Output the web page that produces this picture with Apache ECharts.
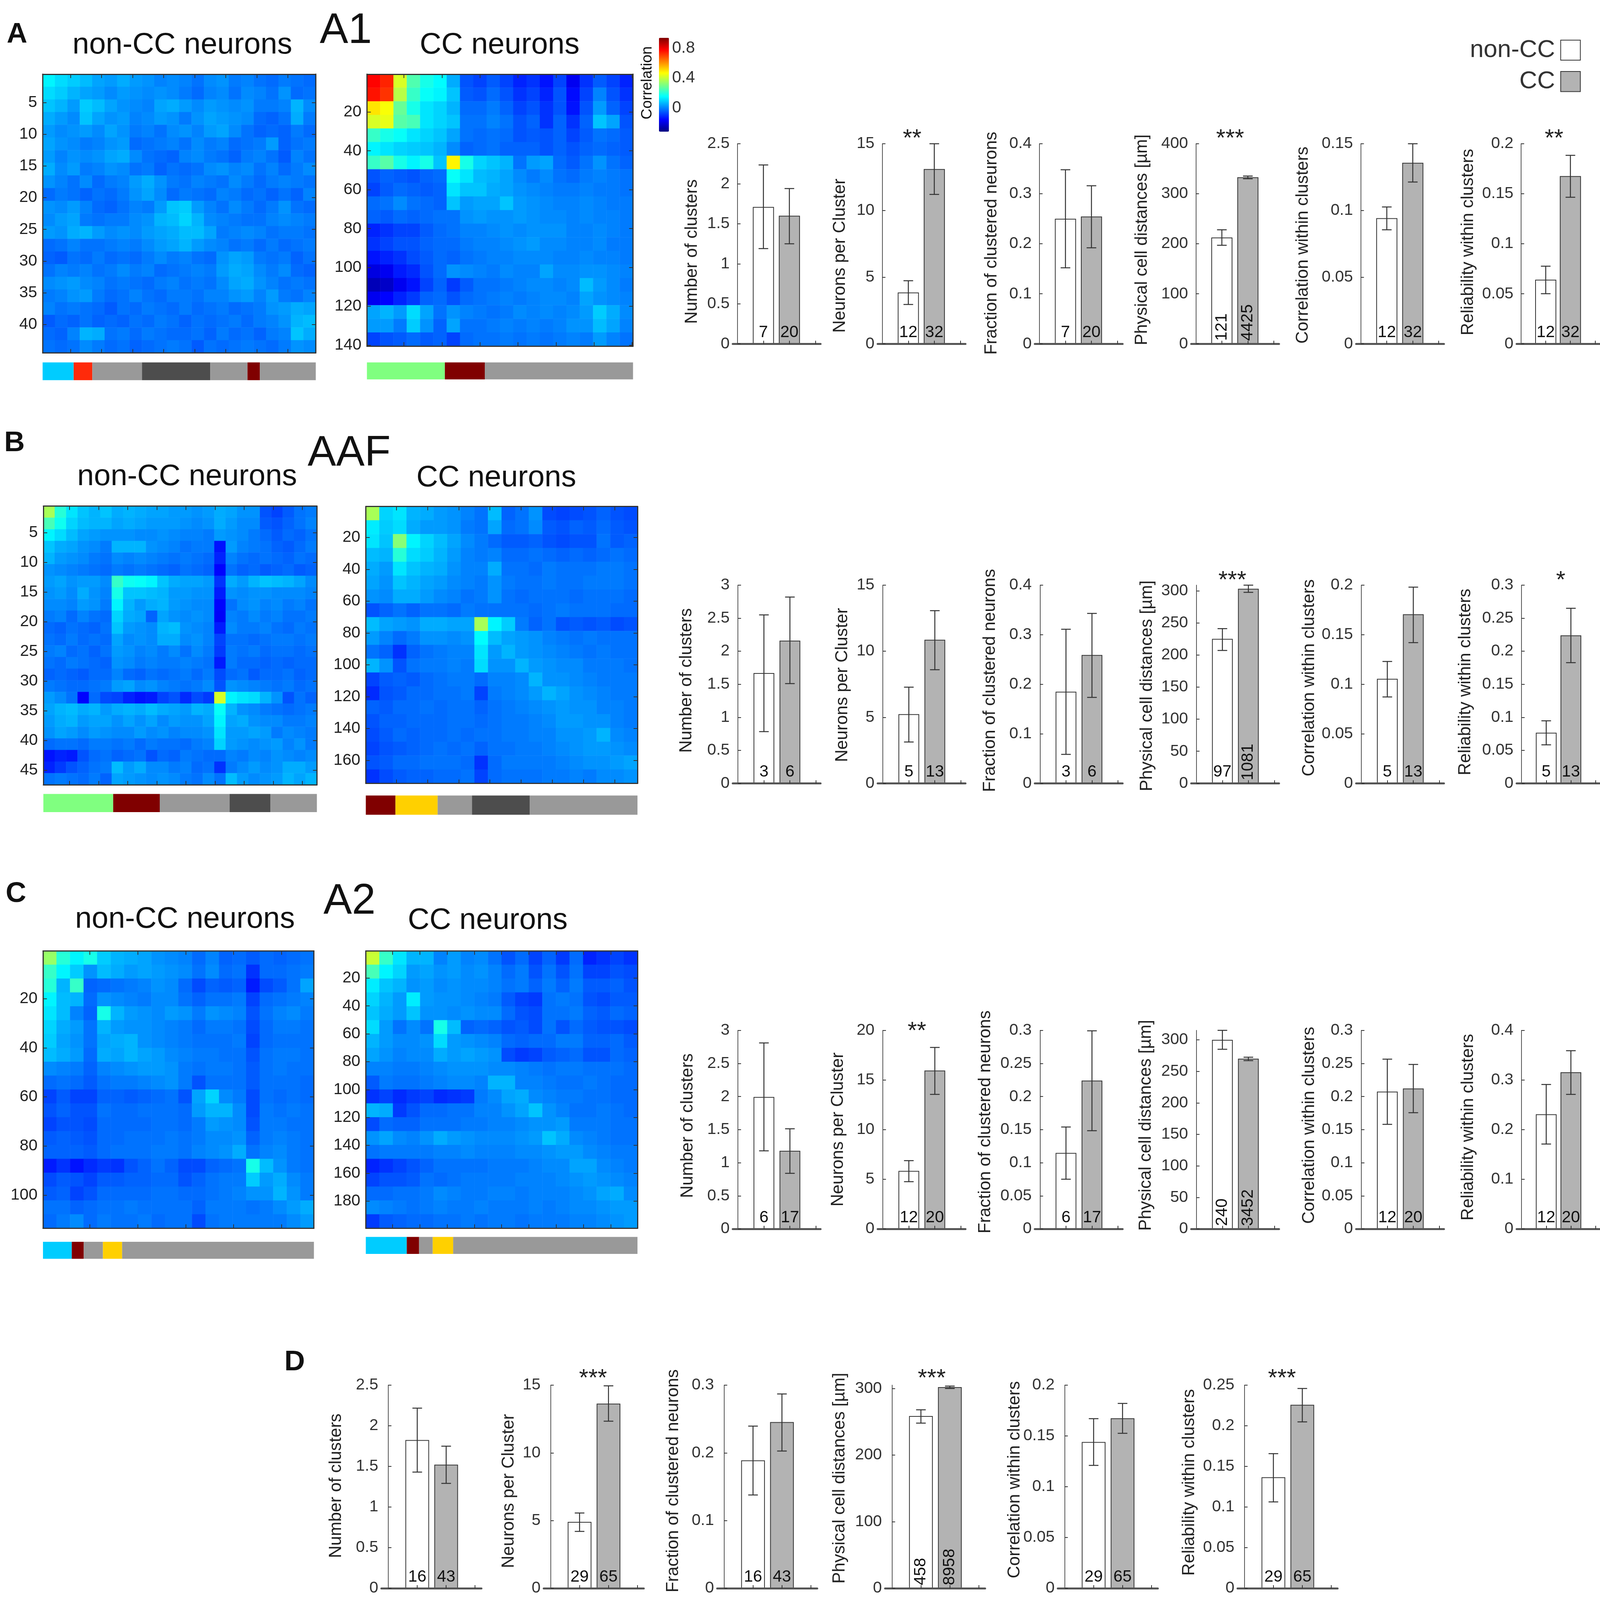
<!DOCTYPE html>
<html lang="en">
<head>
<meta charset="UTF-8">
<title>Correlation clusters</title>
<script src="https://cdn.jsdelivr.net/npm/echarts@6/dist/echarts.min.js"></script>
<style>html,body{margin:0;padding:0;background:#fff;overflow:hidden}</style>
</head>
<body>
<div id="main" style="width:100vw;height:100vh"></div>
<script>
// correlation matrices, coarse blocks, in hundredths
var heatA1non = [
[14,11,9,7,4,3,5,3,2,0,1,0,-2,1,2,-1,0,-2,-3,-1,-2,-3],
[11,9,6,4,3,1,3,2,1,2,1,-1,-3,0,1,-2,1,0,-2,2,-3,-2],
[8,6,3,9,7,4,2,1,0,4,5,3,1,3,2,1,2,-1,-1,0,6,1],
[5,3,1,8,4,2,3,0,1,3,2,-1,2,4,3,2,1,-3,-4,-2,5,-1],
[3,1,2,3,1,4,2,-1,0,-2,1,2,0,3,4,1,-2,-4,-3,-4,-1,-3],
[4,2,1,-1,0,2,3,-3,-2,-1,0,-2,1,-1,0,-3,-2,-1,3,-4,-2,-1],
[3,0,2,1,2,4,5,1,-2,-3,-4,0,1,-1,-2,-4,-1,0,-2,-5,0,-2],
[5,1,3,-1,0,2,1,-2,-1,-4,-2,-3,-2,1,2,0,1,-2,0,-3,-1,1],
[2,0,-2,1,-3,-1,0,3,5,2,-1,-2,0,-1,-2,1,-1,-3,-1,0,-1,-2],
[-3,-1,-2,-4,-2,-3,-1,2,4,1,-3,-1,-2,-3,0,-1,-3,-2,-4,-2,-4,0],
[2,1,3,0,-3,-4,-2,0,-1,3,8,9,3,0,-2,1,-1,-3,-1,2,-2,-3],
[1,3,4,-1,-2,-1,-1,1,2,6,7,10,6,1,0,-1,-2,-2,0,1,0,-1],
[3,2,5,6,3,1,2,1,3,4,5,7,7,4,-1,0,1,0,-2,-1,-1,-2],
[-3,-2,0,-2,-2,-1,0,-1,1,3,4,6,3,1,0,-2,-1,-3,-1,-3,-2,-1],
[-4,-5,-2,-3,-1,-3,-2,-3,-1,1,-1,0,-2,-3,2,4,3,-1,-2,-1,-4,-2],
[-2,0,-1,0,-2,-1,1,-1,0,-3,-2,-1,0,-1,3,5,4,1,-1,1,-3,-4],
[1,2,3,1,0,-2,-1,-2,-3,-1,0,-2,-1,-2,1,4,5,2,0,-2,-1,-2],
[-1,0,2,3,-1,-3,-2,0,-2,-3,-1,-1,-2,0,0,2,3,0,3,-1,-2,0],
[0,-2,-1,-2,-3,-5,-2,-3,-1,-2,-3,-1,-3,-2,-1,-3,-2,-1,2,3,5,4],
[-5,-3,-4,-2,-4,-3,-4,-2,-3,-1,-2,-4,-2,-3,-2,-1,-3,-1,0,2,6,7],
[-3,-4,0,6,5,-2,-1,-3,-1,-2,-3,-3,-2,-4,-1,-3,-2,-4,-1,0,8,5],
[-2,-3,-2,1,-1,-3,-2,-4,-3,-2,-1,-2,-5,-2,-3,-2,-1,-2,-3,-1,2,1]];

var heatA1cc = [
[78,74,42,25,18,15,5,-6,-8,-5,-8,-12,-10,-14,-8,-18,-10,-5,-8,-12],
[76,72,38,22,16,14,8,-5,-6,-3,-6,-10,-8,-12,-6,-15,-8,0,-6,-10],
[50,46,28,18,12,10,6,-3,-3,-1,-4,-8,-6,-10,-6,-14,-6,3,-4,-8],
[42,44,26,24,12,10,8,-2,-2,0,-2,-6,-4,-10,-4,-10,-4,8,4,-6],
[22,18,16,12,10,8,4,-2,-3,-2,-3,-6,-5,-6,-4,-8,-5,-2,-3,-5],
[14,12,10,9,8,6,1,-4,-3,-2,-4,-4,-4,-6,-4,-6,-4,-3,-4,-5],
[22,26,18,14,18,8,48,18,10,8,6,-2,3,4,-3,-5,-2,2,-2,-4],
[-6,-4,-5,-6,-4,-3,16,12,7,6,4,1,-1,1,-2,-3,-1,0,-1,-2],
[-8,-5,-3,-4,-5,-4,12,8,8,5,4,2,1,0,-1,-1,0,-1,-1,-2],
[-3,-2,1,-2,-3,-4,8,3,4,4,8,3,2,1,0,0,1,0,-1,-1],
[-4,-5,-3,-4,-3,-2,-2,2,3,2,2,3,2,1,1,0,1,0,0,-1],
[-12,-10,-8,-8,-5,-3,-2,0,0,1,2,1,2,2,2,0,0,1,0,-1],
[-10,-8,-6,-6,-4,-3,-3,-1,0,0,1,2,3,1,1,0,0,1,-1,-1],
[-14,-12,-10,-7,-5,-3,-4,-2,-1,0,0,1,1,1,0,0,1,0,0,-1],
[-20,-18,-13,-11,-6,-3,2,1,0,-1,1,0,0,4,1,1,2,2,1,0],
[-25,-23,-18,-14,-8,-4,-9,-5,-2,-2,-1,0,1,1,0,1,7,3,1,-1],
[-18,-16,-12,-9,-4,-3,-6,-3,-2,-1,0,-1,0,1,1,0,4,2,1,0],
[4,6,3,11,4,-2,2,0,-1,-2,-1,1,0,1,0,1,3,9,5,1],
[3,3,-1,9,2,-4,4,-2,-2,-1,0,-1,0,-1,0,2,2,7,4,0],
[-8,-6,-5,-3,-5,-4,-8,-3,-2,-2,-1,-2,-1,-2,-1,0,-1,3,0,-2]];

var heatAAFnon = [
[36,20,12,8,6,8,5,6,5,4,4,3,3,2,3,5,4,2,2,-6,-8,-5,-2,-1],
[24,17,10,7,6,6,4,5,4,3,3,3,2,1,2,5,3,1,1,-5,-6,-4,-2,0],
[14,11,7,4,3,2,2,2,1,1,2,1,0,0,-1,3,2,1,-1,-3,-5,-3,-4,-2],
[8,5,4,2,1,-1,6,6,6,2,1,0,-2,-1,-1,-14,3,0,-1,-2,-4,-5,-3,-1],
[6,3,2,1,-1,-2,1,0,1,0,-1,-2,-1,-2,-3,-12,0,-2,-3,-2,-3,-4,-2,-3],
[2,1,0,-1,-2,-3,-1,-2,-1,-2,-3,-4,-2,-3,-4,-16,-2,-4,-3,-5,-4,-3,-5,-4],
[3,4,2,3,3,1,22,17,16,14,8,5,4,4,3,-10,5,3,6,8,7,6,4,1],
[2,3,1,5,2,0,18,8,8,7,6,3,3,2,2,-13,2,1,2,2,1,1,1,0],
[1,1,0,3,2,-1,14,6,3,5,6,3,2,1,1,-16,-2,1,2,0,1,-1,0,-2],
[-1,0,-3,0,-2,-3,10,5,4,-4,4,2,1,2,1,-17,0,-1,1,-1,0,-2,-2,-1],
[-3,-4,-2,-3,-4,-2,8,3,2,1,6,7,2,1,0,-13,1,-1,-1,0,-2,-3,-1,-2],
[-2,-3,-1,-3,-2,-3,4,1,2,1,5,5,1,2,0,-8,-2,-2,-3,-2,-1,-1,-2,-1],
[-1,0,-3,-2,-4,-2,3,2,0,1,-1,1,-2,1,-1,-9,-1,-2,-1,-3,-2,-2,-3,-2],
[-2,-3,-1,-2,-3,-4,2,1,-1,0,-1,-1,0,-1,-2,-13,-1,-3,-3,-4,-3,-4,-3,-3],
[-4,-3,-4,-5,-3,-3,0,-3,-4,-2,-3,-2,-1,-3,-1,-7,-3,-2,-5,-3,-3,-2,-4,-3],
[-1,-2,-3,-3,-2,-1,3,4,1,2,0,-1,-2,-1,1,-6,2,1,0,-1,-2,-1,-3,-2],
[3,1,-2,-16,-3,-7,-8,-12,-14,-13,-8,-6,-11,-7,-9,42,14,12,11,6,2,-6,-2,-4],
[4,6,7,5,6,3,5,6,5,7,5,4,3,6,5,16,6,2,1,-1,-2,-3,-2,-1],
[3,5,6,3,4,4,2,4,2,4,1,3,2,2,4,14,4,5,2,1,1,-1,-1,0],
[2,4,3,1,3,2,1,1,3,1,2,0,1,1,2,12,3,3,4,3,-1,1,0,-1],
[-3,-2,-2,-3,-1,-1,-2,-1,-3,-1,-2,-2,-3,-1,0,10,3,2,1,2,3,0,2,-1],
[-14,-12,-13,-6,-3,-2,-4,-3,-2,-6,-3,-4,-1,-2,-3,-3,0,-1,1,0,2,1,0,1],
[-12,-9,-6,-4,-2,-1,7,3,5,1,1,-1,0,-3,-2,-10,-1,1,3,1,2,5,5,3],
[-2,-1,-2,-3,-1,-4,4,3,2,1,2,1,-1,-2,1,-2,7,3,1,2,3,6,4,6]];

var heatAAFcc = [
[36,10,12,6,5,3,2,0,-2,7,-4,-2,2,-7,-8,-7,-6,-4,-6,-7],
[13,9,11,5,3,3,2,-1,-2,4,-3,-2,1,-5,-6,-4,-5,-3,-5,-6],
[12,8,32,14,10,7,4,1,-1,-3,-5,-5,-4,-6,-7,-6,-6,-2,-5,-4],
[7,6,20,11,9,6,3,0,-1,0,-3,-3,-2,-3,-4,-3,-4,-3,-2,-3],
[5,3,12,8,6,5,2,0,0,5,-2,-2,-3,-1,-2,-2,-2,-1,-1,-2],
[4,2,8,6,4,3,1,0,-1,2,-1,-2,-2,-1,-2,-2,-1,-1,-1,-2],
[2,1,5,5,3,1,0,-2,-1,2,-2,-3,-2,-2,-2,-3,-2,-2,-2,-3],
[-6,-4,-2,-4,-2,-2,-3,-1,-2,-2,-2,-2,-3,-2,-1,-2,-2,-2,-3,-3],
[7,4,3,2,5,5,4,4,36,14,9,-1,-4,-2,-6,-5,-6,-5,-7,-6],
[3,0,-3,-1,2,2,1,2,15,7,4,3,2,0,-1,-2,-1,-2,-2,-2],
[-2,-4,-10,-4,-2,-1,0,0,12,3,6,3,2,1,0,-1,-2,-1,-2,-2],
[6,2,-6,-2,-1,-1,0,-1,11,2,2,6,3,2,1,1,-1,-1,-1,-2],
[-8,-5,-4,-5,-3,-2,-1,-1,-3,0,0,1,6,2,2,1,0,-1,-1,-1],
[-11,-6,-5,-3,-3,-2,-2,-1,-8,-1,0,1,3,6,4,2,1,0,-1,-1],
[-4,-5,-3,-3,-2,-3,-2,-2,-4,-2,-1,0,1,2,3,2,2,0,0,-1],
[-6,-4,-4,-3,-3,-3,-2,-2,-3,-2,-1,-1,0,1,3,3,2,2,0,-1],
[-7,-5,-3,-4,-3,-3,-2,-3,-2,-2,-1,-1,0,0,2,2,3,6,1,0],
[-8,-6,-5,-4,-3,-2,-3,-2,-4,-2,-2,-1,-1,0,1,2,3,3,2,1],
[-6,-5,-3,-3,-2,-2,-2,-3,-10,-3,-1,-1,-1,-1,0,1,2,2,3,4],
[-10,-7,-5,-4,-4,-3,-3,-2,-8,-3,-2,-2,-2,-1,-1,0,-1,1,1,2]];

var heatA2non = [
[34,20,14,18,9,6,5,4,2,1,0,-3,0,-4,-3,-5,-3,-4,-3,-2],
[22,14,9,2,7,5,3,4,3,2,1,-2,1,-3,-2,-10,-3,-3,-2,-1],
[20,6,22,-4,-3,-2,-1,0,2,1,-3,-7,-4,-5,-4,-13,-7,-5,-2,4],
[14,7,6,-3,2,1,0,-1,1,1,-2,-4,-2,-2,-1,-8,-3,-2,-1,0],
[12,7,0,-4,18,6,3,2,1,3,2,-1,2,1,0,-6,-2,0,1,-1],
[10,5,3,-2,6,3,2,2,1,0,-1,-3,-1,-1,-2,-7,-3,-1,-1,-2],
[9,4,2,-2,4,5,6,2,1,0,-1,-2,-2,-2,-1,-8,-3,-2,-2,-2],
[7,5,3,-3,5,4,6,4,3,1,0,-1,-1,-2,-2,-6,-2,-1,-1,-2],
[1,0,-1,-4,0,1,2,3,3,2,-1,-2,-1,-1,-2,-5,-2,-1,-2,-2],
[-3,-2,-3,-5,-2,-1,-1,0,1,2,-1,-6,-2,-2,-2,-5,-2,-2,-2,-3],
[-8,-5,-8,-8,-4,-4,-5,-4,-3,-2,-6,4,10,1,-1,-7,-2,-3,-2,-3],
[-6,-4,-6,-6,-2,-3,-3,-2,-2,-2,-3,3,6,6,1,-7,-1,-2,-1,-2],
[-8,-6,-6,-7,-3,-3,-3,-3,-2,-2,-3,-1,3,2,1,-6,-1,-1,-2,-2],
[-5,-4,-5,-6,-3,-3,-2,-2,-2,-1,-2,-1,1,1,2,-4,-1,0,-1,-2],
[-4,-4,-4,-5,-3,-2,-2,-2,-1,-1,-2,0,1,2,5,-2,0,1,-1,-2],
[-13,-10,-14,-11,-9,-10,-6,-4,-2,-4,-7,-7,-4,-3,-2,18,7,2,-1,-2],
[-7,-5,-6,-8,-5,-5,-4,-4,-3,-3,-6,-4,-2,-1,-1,9,3,5,1,-1],
[-5,-4,-8,-6,-3,-3,-3,-3,-2,-2,-3,-3,-2,-1,0,2,2,6,2,-1],
[-2,-2,-4,-3,-2,-2,-1,-2,-2,-2,-2,-4,-1,-1,-1,-2,-1,1,3,5],
[-3,-1,1,-3,-1,-2,-2,-1,-3,-2,-2,-7,-2,-1,-1,-1,-1,-1,1,3]];

var heatA2cc = [
[40,22,12,6,6,0,3,0,1,-2,-6,-3,-8,-4,-9,-3,-12,-10,-8,-10],
[24,14,10,3,4,2,3,1,2,0,-3,-1,-6,-2,-6,-2,-8,-8,-6,-7],
[13,8,6,2,3,1,2,1,1,0,-2,-1,-4,-1,-4,-1,-5,-5,-4,-6],
[10,6,3,13,3,2,2,1,0,-1,-5,-8,-9,-2,-1,-2,-6,-7,-5,-5],
[8,5,3,8,2,2,1,2,1,1,-3,-6,-7,-2,-2,-1,-4,-5,-3,-4],
[11,3,-2,1,-2,18,7,-4,-3,-4,-6,-5,-7,-2,-6,-3,-5,-6,-6,-7],
[6,3,1,1,2,11,3,2,1,0,-3,-4,-3,-3,-1,-1,-4,-4,-3,-5],
[4,2,0,1,1,5,3,4,3,2,-7,-9,-8,-5,-4,-3,-6,-6,-3,-4],
[0,0,-1,-1,0,1,2,2,2,1,1,0,-1,-2,-1,-1,-2,-2,-2,-3],
[-5,-1,-2,-2,-1,0,1,1,0,6,6,0,0,-1,-2,-2,-1,-2,-3,-3],
[-10,-8,-11,-9,-8,-11,-10,-9,-1,1,4,5,1,0,-1,-1,-2,-2,-3,-3],
[6,5,-9,-6,-3,-3,-2,-2,0,0,2,4,8,2,0,-2,-2,-1,-2,-3],
[-7,-3,-4,-4,-2,-2,-2,-1,-1,0,0,1,2,2,3,-1,-1,-1,-2,-2],
[2,4,1,0,2,5,3,2,1,1,1,2,3,8,5,1,0,-1,-2,-2],
[-2,-1,-1,-1,-1,0,0,1,0,0,0,1,1,2,3,3,1,0,-1,-1],
[-12,-10,-8,-6,-4,-2,-2,-2,-2,-1,-1,-1,0,1,1,4,4,1,0,-1],
[-8,-6,-6,-5,-2,-3,-2,-1,-1,-1,-1,0,0,0,1,2,3,2,1,0],
[-3,-3,-2,-2,-1,1,0,-1,-1,0,0,-1,0,0,0,1,2,4,5,1],
[1,0,-1,-2,-1,0,-1,-1,0,-1,-1,-1,0,-1,0,1,1,2,3,3],
[-9,-5,-4,-3,-3,-2,-2,-1,-2,-1,-1,-2,-1,-1,-1,0,0,1,2,3]];

// neurons in each heatmap
var neuronsA1 = [44, 140], neuronsAAF = [47, 174], neuronsA2 = [113, 199];
var ticksA1 = [[5,10,15,20,25,30,35,40], [20,40,60,80,100,120,140]];
var ticksAAF = [[5,10,15,20,25,30,35,40,45], [20,40,60,80,100,120,140,160]];
var ticksA2 = [[20,40,60,80,100], [20,40,60,80,100,120,140,160,180]];

// cluster strips under the heatmaps: lengths in neurons + cluster kind
var stripLensA1 = [[5,3,8,11,6,2,9], [41,21,78]];
var stripKindsA1 = [[0,1,2,3,2,4,2], [5,4,2]];
var stripLensAAF = [[12,8,12,7,8], [19,27,22,37,69]];
var stripKindsAAF = [[5,4,2,3,2], [4,6,2,3,2]];
var stripLensA2 = [[12,5,8,8,80], [30,9,10,15,135]];
var stripKindsA2 = [[0,4,2,6,2], [0,4,2,6,2]];

// bar panels, order: clusters, per cluster, fraction, distance, correlation, reliability
var panelNames = ['Number of clusters','Neurons per Cluster','Fraction of clustered neurons','Physical cell distances [µm]','Correlation within clusters','Reliability within clusters'];

var meansA = [[1.71,1.60],[3.85,13.1],[0.25,0.2545],[212.5,333],[0.0942,0.1357],[0.0641,0.1677]];
var lowsA  = [[1.19,1.25],[2.95,11.2],[0.152,0.192],[197,330],[0.0855,0.1213],[0.0501,0.1465]];
var highsA = [[2.235,1.94],[4.73,15],[0.348,0.316],[228,335.4],[0.1026,0.15],[0.0776,0.1884]];
var countsA = [[7,20],[12,32],[7,20],[121,4425],[12,32],[12,32]];
var yMaxA = [2.5,15,0.4,400,0.15,0.2], yStepA = [0.5,5,0.1,100,0.05,0.05];
var starsA = ['','**','','***','','**'];

var meansB = [[1.67,2.16],[5.24,10.87],[0.185,0.259],[225,303],[0.1055,0.1706],[0.0766,0.224]];
var lowsB  = [[0.783,1.51],[3.13,8.6],[0.0585,0.1735],[207,297.5],[0.0872,0.142],[0.0583,0.1827]];
var highsB = [[2.55,2.82],[7.28,13.07],[0.311,0.343],[241,308.7],[0.123,0.198],[0.0947,0.265]];
var countsB = [[3,6],[5,13],[3,6],[97,1081],[5,13],[5,13]];
var yMaxB = [3,15,0.4,308.7,0.2,0.3], yStepB = [0.5,5,0.1,50,0.05,0.05];
var starsB = ['','','','***','','*'];

var meansC = [[1.994,1.18],[5.85,15.96],[0.1148,0.2242],[300,270],[0.2074,0.2122],[0.231,0.3156]];
var lowsC  = [[1.18,0.84],[4.76,13.55],[0.0751,0.1484],[285,267],[0.158,0.1756],[0.171,0.271]];
var highsC = [[2.81,1.513],[6.88,18.28],[0.154,0.2993],[315,272.4],[0.2565,0.2485],[0.291,0.359]];
var countsC = [[6,17],[12,20],[6,17],[240,3452],[12,20],[12,20]];
var yMaxC = [3,20,0.3,315,0.3,0.4], yStepC = [0.5,5,0.05,50,0.05,0.1];
var starsC = ['','**','','','',''];

var meansD = [[1.824,1.521],[4.9,13.64],[0.1889,0.2455],[258.6,302],[0.144,0.1674],[0.1366,0.2258]];
var lowsD  = [[1.43,1.291],[4.2,12.34],[0.1378,0.2027],[248,300],[0.121,0.1526],[0.1063,0.2048]];
var highsD = [[2.217,1.749],[5.56,14.95],[0.2395,0.287],[268,303.6],[0.167,0.182],[0.1657,0.2459]];
var countsD = [[16,43],[29,65],[16,43],[458,8958],[29,65],[29,65]];
var yMaxD = [2.5,15,0.3,305,0.2,0.25], yStepD = [0.5,5,0.1,100,0.05,0.05];
var starsD = ['','***','','***','','***'];

var barX = [1, 2];

// the window is smaller than the picture, so layout numbers (in picture px) get scaled to it
var kx = window.innerWidth / 4317, ky = window.innerHeight / 4230, kf = (kx + ky) / 2;
function X(v) { return v * kx; }
function Y(v) { return v * ky; }
function F(v) { return v * kf; }

// styles and layout
var FONT = 'Liberation Sans';
var stripColors = ['#00ccff','#ff2a0a','#999999','#4d4d4d','#800000','#80ff80','#ffd000'];
var jet = ['#00007f','#0000ff','#007fff','#00ffff','#7fff7f','#ffff00','#ff7f00','#ff0000','#7f0000'];
var rowColsX = [1977,2368,2792,3214,3659,4092];
var rowDColsX = [1029,1467,1935,2388,2854,3339];
var nameXA = [1867,2267,2676,3082,3516,3962], nameYA = [665,676,643,634,648,640];
var nameXB = [1853,2273,2672,3095,3533,3954], nameYB = [1799,1811,1799,1813,1792,1803];
var nameXC = [1856,2262,2659,3092,3533,3962], nameYC = [2976,2986,2966,2975,2975,2980];
var nameXD = [907,1373,1817,2266,2738,3209], nameYD = [3928,3942,3915,3908,3912,3919];
var starXA = [0,2461,0,3319,0,4193], starXB = [0,0,0,3325,0,4211], starXC = [0,2474,0,0,0,0], starXD = [0,1600,0,2514,0,3459];

var grids = [], xAxes = [], yAxes = [], series = [], texts = [], heatSeries = [];

function addText(str, x, y, size, opts) {
    opts = opts || {};
    texts.push({
        type: 'text', x: X(x), y: Y(y), rotation: opts.vertical ? Math.PI / 2 : 0,
        style: {
            text: str, fontSize: F(size), fontFamily: FONT, fill: opts.color || '#111',
            fontWeight: opts.bold ? 'bold' : 'normal', align: 'center', verticalAlign: 'middle'
        }
    });
}

function addGrid(rect) {
    grids.push({ left: X(rect[0]), top: Y(rect[1]), width: X(rect[2]), height: Y(rect[3]) });
    return grids.length - 1;
}

function addHeat(matrix, n, ticks, rect) {
    var g = addGrid(rect);
    var cats = matrix[0].map(function (d, i) { return i; });
    var rows = matrix.map(function (d, i) { return i; });
    var cx = xAxes.length, cy = yAxes.length;
    xAxes.push({ type: 'category', gridIndex: g, data: cats, show: false });
    yAxes.push({ type: 'category', gridIndex: g, data: rows, inverse: true, show: false });
    var line = { lineStyle: { color: '#333', width: 3 }, onZero: false };
    ['bottom', 'top'].forEach(function (p) {
        xAxes.push({
            type: 'value', gridIndex: g, position: p, min: 0.5, max: n + 0.5, z: 5,
            axisLine: line, axisLabel: { show: false }, splitLine: { show: false },
            axisTick: { inside: true, length: 10, lineStyle: { color: '#333', width: 2 }, customValues: ticks }
        });
    });
    ['left', 'right'].forEach(function (p) {
        yAxes.push({
            type: 'value', gridIndex: g, position: p, min: 0.5, max: n + 0.5, inverse: true, z: 5,
            axisLine: line, splitLine: { show: false },
            axisLabel: p === 'left' ? { show: true, customValues: ticks, fontSize: F(43), fontFamily: FONT, color: '#222', margin: 14 } : { show: false },
            axisTick: { inside: true, length: 10, lineStyle: { color: '#333', width: 2 }, customValues: ticks }
        });
    });
    var cells = [];
    matrix.forEach(function (row, r) {
        row.forEach(function (v, c) { cells.push([c, r, v / 100]); });
    });
    heatSeries.push(series.length);
    series.push({ type: 'heatmap', xAxisIndex: cx, yAxisIndex: cy, data: cells, itemStyle: { borderWidth: 0 }, silent: true });
}

function addStrip(lens, kinds, n, rect) {
    var g = addGrid(rect);
    xAxes.push({ type: 'value', gridIndex: g, min: 0, max: n, show: false });
    yAxes.push({ type: 'category', gridIndex: g, data: ['c'], show: false });
    lens.forEach(function (len, i) {
        series.push({
            type: 'bar', xAxisIndex: xAxes.length - 1, yAxisIndex: yAxes.length - 1, stack: 'strip' + g,
            barWidth: '100%', data: [len], silent: true, itemStyle: { color: stripColors[kinds[i]] }
        });
    });
}

function addPanel(i, left, top, base, width, xMin, xMax, barW, m, lo, hi, cnt, yMax, yStep) {
    var g = addGrid([left, top, width, base - top]);
    var whole = Math.abs(yMax[i] / yStep[i] - Math.round(yMax[i] / yStep[i])) < 1e-6;
    xAxes.push({
        type: 'value', gridIndex: g, min: xMin, max: xMax, z: 5, splitLine: { show: false },
        axisLine: { onZero: false, lineStyle: { color: '#555', width: 5 } },
        axisLabel: { show: false },
        axisTick: { inside: true, length: 8, lineStyle: { color: '#333', width: 2 }, customValues: [1, 2, 3] }
    });
    yAxes.push({
        type: 'value', gridIndex: g, min: 0, max: yMax[i], interval: yStep[i], splitLine: { show: false }, z: 5,
        axisLine: { lineStyle: { color: '#555', width: 2 } },
        axisTick: { inside: true, length: 8, lineStyle: { color: '#333', width: 2 } },
        axisLabel: { fontSize: F(43), fontFamily: FONT, color: '#333', margin: 8, showMaxLabel: whole, hideOverlap: false }
    });
    var xi = xAxes.length - 1, yi = yAxes.length - 1;
    [0, 1].forEach(function (k) {
        var long = String(cnt[i][k]).length > 2;
        series.push({
            name: k === 0 ? 'non-CC' : 'CC', type: 'bar', xAxisIndex: xi, yAxisIndex: yi, barWidth: X(barW), barGap: '-100%',
            data: [[barX[k], m[i][k]]], silent: true,
            itemStyle: { color: k === 0 ? '#ffffff' : '#b3b3b3', borderColor: '#333', borderWidth: 2 },
            label: {
                show: true, position: 'insideBottom', distance: F(8), fontSize: F(44), fontFamily: FONT, color: '#111',
                rotate: long ? 90 : 0, align: long ? 'left' : 'center', verticalAlign: long ? 'middle' : 'bottom',
                formatter: function () { return String(cnt[i][k]); }
            }
        });
    });
    series.push({
        type: 'custom', xAxisIndex: xi, yAxisIndex: yi, silent: true, clip: false, z: 4,
        data: [0, 1].map(function (k) { return [barX[k], lo[i][k], hi[i][k]]; }),
        encode: { x: 0, y: [1, 2] },
        renderItem: function (params, api) {
            var a = api.coord([api.value(0), api.value(1)]);
            var b = api.coord([api.value(0), api.value(2)]);
            var st = { stroke: '#333', lineWidth: 2.5 };
            var cap = X(13);
            return {
                type: 'group', children: [
                    { type: 'line', shape: { x1: a[0], y1: a[1], x2: b[0], y2: b[1] }, style: st },
                    { type: 'line', shape: { x1: a[0] - cap, y1: a[1], x2: a[0] + cap, y2: a[1] }, style: st },
                    { type: 'line', shape: { x1: b[0] - cap, y1: b[1], x2: b[0] + cap, y2: b[1] }, style: st }
                ]
            };
        }
    });
}

function addRow(colsX, top, base, width, xMin, xMax, barW, m, lo, hi, cnt, yMax, yStep, nameX, nameY, stars, starX, starY) {
    panelNames.forEach(function (name, i) {
        addPanel(i, colsX[i], top, base, width, xMin, xMax, barW, m, lo, hi, cnt, yMax, yStep);
        addText(name, nameX[i], nameY[i], 46, { vertical: true, color: '#222' });
        if (stars[i]) addText(stars[i], starX[i], starY, 64, { color: '#222' });
    });
}

// heatmaps and strips
addHeat(heatA1non, neuronsA1[0], ticksA1[0], [115, 196, 737, 737]);
addHeat(heatA1cc, neuronsA1[1], ticksA1[1], [990, 196, 718, 719]);
addStrip(stripLensA1[0], stripKindsA1[0], neuronsA1[0], [115, 958, 737, 47]);
addStrip(stripLensA1[1], stripKindsA1[1], neuronsA1[1], [990, 958, 718, 45]);

addHeat(heatAAFnon, neuronsAAF[0], ticksAAF[0], [117, 1338, 738, 737]);
addHeat(heatAAFcc, neuronsAAF[1], ticksAAF[1], [987, 1339, 733, 732]);
addStrip(stripLensAAF[0], stripKindsAAF[0], neuronsAAF[0], [117, 2099, 738, 48]);
addStrip(stripLensAAF[1], stripKindsAAF[1], neuronsAAF[1], [987, 2103, 733, 51]);

addHeat(heatA2non, neuronsA2[0], ticksA2[0], [116, 2514, 731, 733]);
addHeat(heatA2cc, neuronsA2[1], ticksA2[1], [987, 2514, 733, 733]);
addStrip(stripLensA2[0], stripKindsA2[0], neuronsA2[0], [116, 3283, 731, 45]);
addStrip(stripLensA2[1], stripKindsA2[1], neuronsA2[1], [987, 3270, 733, 45]);

// bar rows
addRow(rowColsX, 380, 909, 237, -0.18, 3.2, 57, meansA, lowsA, highsA, countsA, yMaxA, yStepA, nameXA, nameYA, starsA, starXA, 368);
addRow(rowColsX, 1547, 2071, 237, -0.2, 3.18, 56, meansB, lowsB, highsB, countsB, yMaxB, yStepB, nameXB, nameYB, starsB, starXB, 1536);
addRow(rowColsX, 2724, 3249, 237, -0.2, 3.18, 56, meansC, lowsC, highsC, countsC, yMaxC, yStepC, nameXC, nameYC, starsC, starXC, 2728);
addRow(rowDColsX, 3662, 4199, 270, -0.24, 3.22, 64, meansD, lowsD, highsD, countsD, yMaxD, yStepD, nameXD, nameYD, starsD, starXD, 3646);

// colorbar axis, the ramp itself is the visualMap
var cb = addGrid([1778, 100, 27, 248]);
xAxes.push({ type: 'value', gridIndex: cb, show: false });
yAxes.push({
    type: 'value', gridIndex: cb, position: 'right', min: -0.32, max: 0.94, splitLine: { show: false },
    axisLine: { show: false }, axisTick: { show: false },
    axisLabel: { customValues: [0, 0.4, 0.8], fontSize: F(44), fontFamily: FONT, color: '#333', margin: 8 }
});

// titles
addText('A', 46, 92, 76, { bold: true });
addText('non-CC neurons', 492, 120, 80);
addText('A1', 933, 82, 114);
addText('CC neurons', 1348, 120, 80);
addText('B', 39, 1172, 76, { bold: true });
addText('non-CC neurons', 505, 1261, 80);
addText('AAF', 942, 1200, 114);
addText('CC neurons', 1339, 1264, 80);
addText('C', 43, 2364, 76, { bold: true });
addText('non-CC neurons', 499, 2431, 80);
addText('A2', 943, 2384, 114);
addText('CC neurons', 1316, 2434, 80);
addText('D', 795, 3602, 76, { bold: true });
addText('Correlation', 1747, 219, 40, { vertical: true });

var myChart = echarts.init(document.getElementById('main'));
myChart.setOption({
    animation: false,
    backgroundColor: '#fff',
    textStyle: { fontFamily: FONT },
    grid: grids,
    xAxis: xAxes,
    yAxis: yAxes,
    series: series,
    graphic: texts,
    visualMap: {
        type: 'continuous', seriesIndex: heatSeries, min: -0.32, max: 0.94, left: X(1778), top: Y(100), padding: 0,
        itemWidth: X(27), itemHeight: Y(248), calculable: false, hoverLink: false, text: null, dimension: 2,
        inRange: { color: jet }
    },
    legend: {
        data: ['non-CC', 'CC'], orient: 'vertical', right: X(52), top: Y(100), padding: 0,
        itemWidth: X(53), itemHeight: Y(53), itemGap: Y(18), align: 'right', selectedMode: false, icon: 'rect',
        textStyle: { fontSize: F(66), color: '#333', fontFamily: FONT, padding: [0, X(10), 0, 0] }
    }
});
</script>
</body>
</html>
